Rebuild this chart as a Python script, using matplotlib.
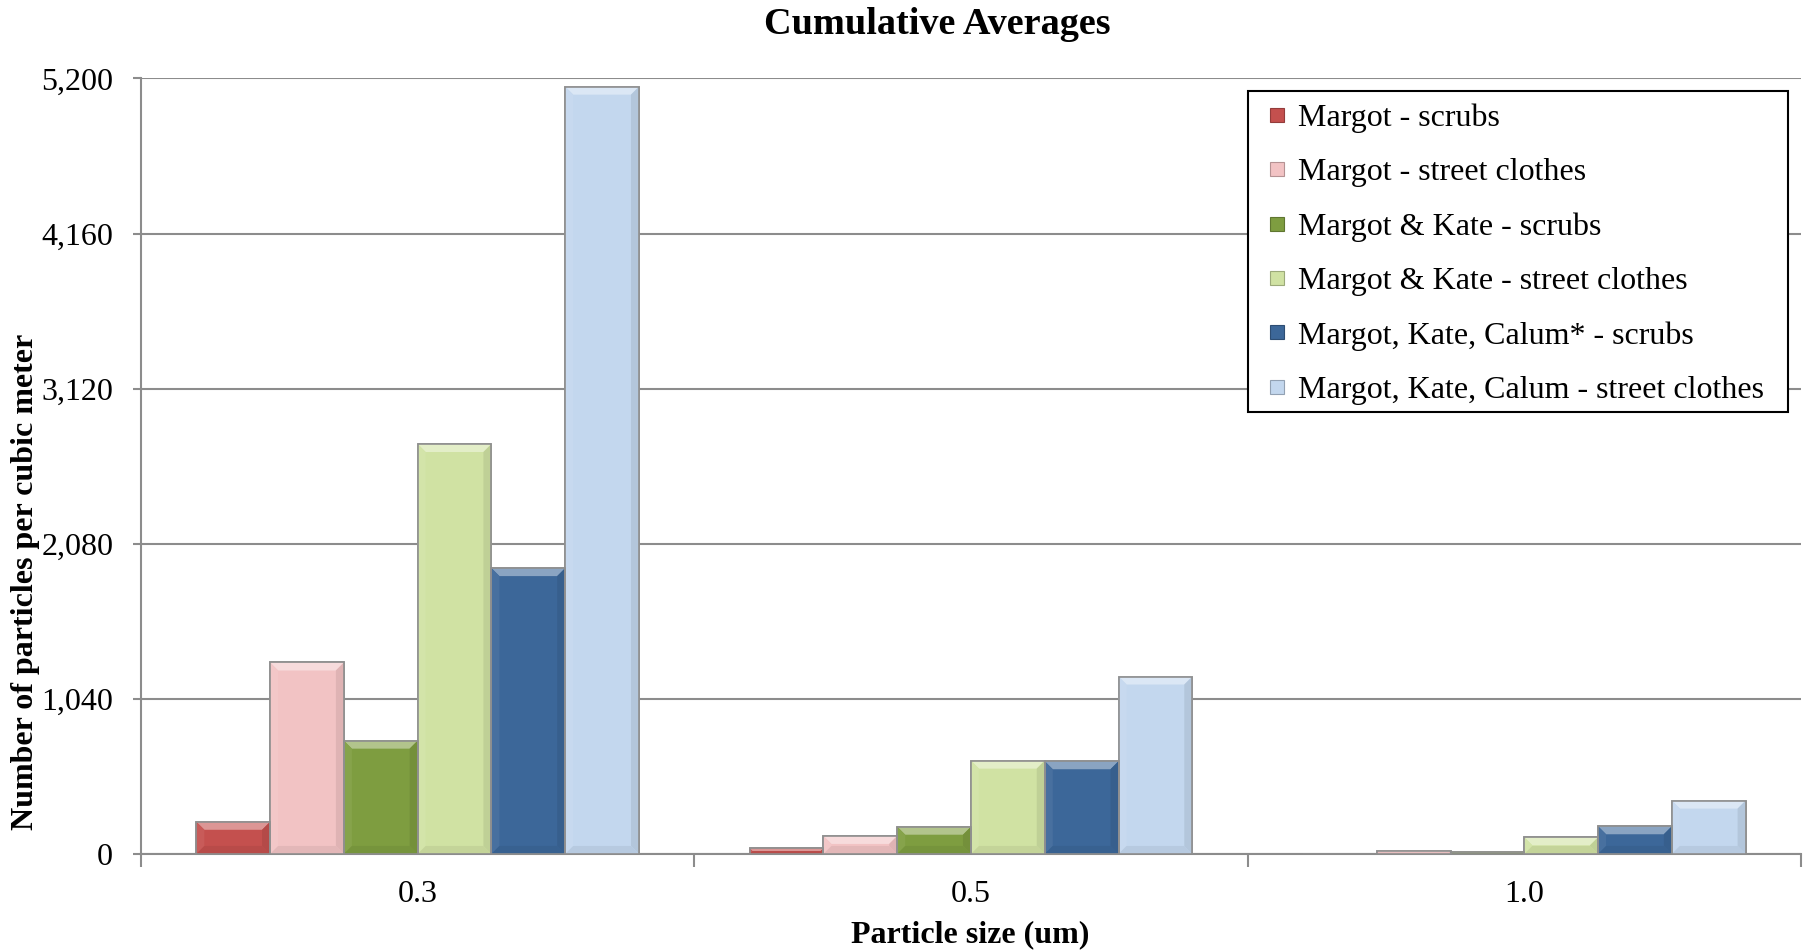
import numpy as np
import matplotlib
matplotlib.use("Agg")
import matplotlib.pyplot as plt
from matplotlib.colors import to_rgb
from matplotlib.lines import Line2D
from matplotlib.patches import Polygon, Rectangle
from matplotlib.ticker import FixedLocator, FuncFormatter

plt.rcParams['font.family'] = 'serif'
plt.rcParams['font.serif'] = ['Liberation Serif', 'DejaVu Serif']

# particle size bins and averaged counts
sizes = ['0.3', '0.5', '1.0']
series = ['Margot - scrubs',
          'Margot - street clothes',
          'Margot & Kate - scrubs',
          'Margot & Kate - street clothes',
          'Margot, Kate, Calum* - scrubs',
          'Margot, Kate, Calum - street clothes']
m_scrubs = [216, 38, 0]
m_street = [1284, 121, 22]
mk_scrubs = [760, 183, 16]
mk_street = [2749, 626, 112]
mkc_scrubs = [1917, 622, 186]
mkc_street = [5145, 1190, 358]
yticks = [0, 1040, 2080, 3120, 4160, 5200]

colours = ['#C4504E', '#F2C3C4', '#7E9D40', '#D0E2A3', '#3C6799', '#C3D7EE']
values = [m_scrubs, m_street, mk_scrubs, mk_street, mkc_scrubs, mkc_street]


def mix(c, other, t):
    a = np.array(to_rgb(c))
    b = np.array(to_rgb(other))
    return tuple(a + (b - a) * t)


def bevel(ax, rect, colour, depth_px=8):
    # faceted edges on a bar, like an office-style bevel
    x0, y0 = rect.get_x(), rect.get_y()
    x1, y1 = x0 + rect.get_width(), y0 + rect.get_height()
    if y1 - y0 <= 0:
        return
    inv = ax.transData.inverted()
    p0 = inv.transform((0, 0))
    p1 = inv.transform((depth_px, depth_px))
    dx, dy = p1[0] - p0[0], p1[1] - p0[1]
    dy = min(dy, (y1 - y0) / 2.0)
    dx = min(dx, dy * (p1[0] - p0[0]) / (p1[1] - p0[1]))
    faces = [
        ([(x0, y1), (x1, y1), (x1 - dx, y1 - dy), (x0 + dx, y1 - dy)], mix(colour, 'white', 0.4)),
        ([(x0, y0), (x0, y1), (x0 + dx, y1 - dy), (x0 + dx, y0 + dy)], mix(colour, 'white', 0.06)),
        ([(x1, y0), (x1, y1), (x1 - dx, y1 - dy), (x1 - dx, y0 + dy)], mix(colour, 'black', 0.08)),
        ([(x0, y0), (x1, y0), (x1 - dx, y0 + dy), (x0 + dx, y0 + dy)], mix(colour, 'black', 0.06)),
    ]
    for pts, fc in faces:
        ax.add_patch(Polygon(pts, closed=True, facecolor=fc, edgecolor='none',
                             zorder=3.5))


fig = plt.figure(figsize=(18.1, 9.51), dpi=100)
ax = fig.add_axes([0.0779, 0.102, 0.9171, 0.8155])

ax.set_xlim(-0.5, 2.5)
ax.set_ylim(0, 5200)

x = np.arange(len(sizes))
n = len(series)
w = 1.0 / 7.5
handles = []
for i in range(n):
    offs = (i - (n - 1) / 2.0) * w
    bars = ax.bar(x + offs, values[i], w, color=colours[i], edgecolor='#8f8f8f',
                  linewidth=1.2, zorder=3)
    for r in bars:
        bevel(ax, r, colours[i])
    # outline on top of the facets
    ax.bar(x + offs, values[i], w, color='none', edgecolor='#8f8f8f',
           linewidth=1.2, zorder=4)
    handles.append(Line2D([], [], linestyle='none', marker='s', markersize=10,
                          markerfacecolor=colours[i],
                          markeredgecolor=mix(colours[i], 'black', 0.25),
                          markeredgewidth=0.8, label=series[i]))

ax.set_yticks(yticks)
ax.yaxis.set_major_formatter(FuncFormatter(lambda v, p: '{:,.0f}'.format(v)))
ax.grid(axis='y', color='#8c8c8c', linewidth=1.5, zorder=0)

ax.set_xticks(x)
ax.set_xticklabels(sizes)
ax.xaxis.set_minor_locator(FixedLocator([-0.5, 0.5, 1.5, 2.5]))
ax.tick_params(axis='x', which='major', length=0, pad=19, labelsize=23)
ax.tick_params(axis='x', which='minor', length=9, width=1.5, color='#8c8c8c')
ax.tick_params(axis='y', length=6, width=1.5, color='#8c8c8c', pad=14,
               labelsize=23)

for s in ['top', 'right']:
    ax.spines[s].set_visible(False)
for s in ['left', 'bottom']:
    ax.spines[s].set_color('#8c8c8c')
    ax.spines[s].set_linewidth(1.5)

fig.text(0.518, 0.974, 'Cumulative Averages', ha='center', va='center',
         fontsize=27.5, fontweight='bold')
fig.text(0.536, 0.017, 'Particle size (um)', ha='center', va='center',
         fontsize=23, fontweight='bold')
fig.text(0.014, 0.388, 'Number of particles per cubic meter', ha='center',
         va='center', rotation=90, fontsize=23, fontweight='bold')

# legend box drawn separately so it can be padded wider than tall
ax.add_patch(Rectangle((0.6667, 0.570), 0.3255, 0.4136, transform=ax.transAxes,
                       facecolor='white', edgecolor='black', linewidth=1.5,
                       zorder=4.8, clip_on=False))
leg = ax.legend(handles=handles, loc='upper right',
                bbox_to_anchor=(0.9853, 0.984), borderaxespad=0, frameon=False,
                prop={'family': 'serif', 'size': 23},
                handlelength=1.1, handletextpad=0.1, labelspacing=0.78,
                borderpad=0.4)
leg.set_zorder(5)

fig.savefig('out.png', dpi=100, facecolor='white')
